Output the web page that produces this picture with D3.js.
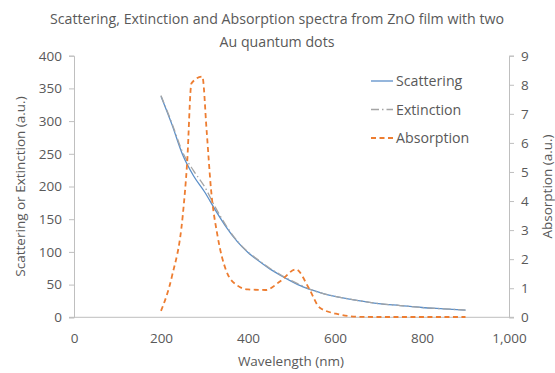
<!DOCTYPE html>
<html>
<head>
<meta charset="utf-8">
<script src="https://cdn.jsdelivr.net/npm/d3@7/dist/d3.min.js"></script>
<style>
  body { margin: 0; background: #fff; }
  svg text { font-family: "Open Sans", "Liberation Sans", sans-serif; fill: #595959; }
</style>
</head>
<body>
<div id="chart"></div>
<script>
  const wavelength = [200, 225, 250, 275, 300, 325, 350, 375, 400, 425, 450, 475, 500, 525, 550, 575, 600, 650, 700, 750, 800, 850, 900];
  const scattering = [338, 295, 248, 216, 192, 164, 138, 116, 99, 86, 74, 64, 55, 47, 41, 36, 32, 26, 21, 18, 15, 13, 11];
  const extinction = [339, 297, 252, 224, 200, 168, 140, 117, 100, 87, 75, 65, 56, 48, 41, 36, 32, 26, 21, 18, 15, 13, 11];

  const absWavelength = [200, 225, 250, 260, 270, 295, 305, 315, 330, 350, 375, 400, 440, 475, 510, 540, 565, 610, 650, 700, 800, 900];
  const absorption = [0.22, 1.4, 3.5, 5.3, 8.05, 8.28, 6.4, 4.4, 2.8, 1.6, 1.1, 0.96, 0.94, 1.25, 1.65, 1.0, 0.33, 0.1, 0.02, 0.01, 0.01, 0.01];

  const xTicks = [0, 200, 400, 600, 800, 1000];
  const leftTicks = [0, 50, 100, 150, 200, 250, 300, 350, 400];
  const rightTicks = [0, 1, 2, 3, 4, 5, 6, 7, 8, 9];

  const width = 555, height = 373;
  const plot = { left: 74, right: 509, top: 55.7, bottom: 317.3 };

  const svg = d3.select("#chart").append("svg")
    .attr("width", width)
    .attr("height", height);

  const x = d3.scaleLinear().domain([0, 1000]).range([plot.left, plot.right]);
  const yLeft = d3.scaleLinear().domain([0, 400]).range([plot.bottom, plot.top]);
  const yRight = d3.scaleLinear().domain([0, 9]).range([plot.bottom, plot.top]);

  const axisColor = "#bfbfbf";

  // axes
  const xAxis = svg.append("g")
    .attr("transform", `translate(0,${plot.bottom})`)
    .call(d3.axisBottom(x).tickValues(xTicks).tickSize(0).tickPadding(16).tickFormat(d3.format(",")));
  const leftAxis = svg.append("g")
    .attr("transform", `translate(${plot.left},0)`)
    .call(d3.axisLeft(yLeft).tickValues(leftTicks).tickSize(5).tickPadding(7));
  const rightAxis = svg.append("g")
    .attr("transform", `translate(${plot.right},0)`)
    .call(d3.axisRight(yRight).tickValues(rightTicks).tickSize(5).tickPadding(7));

  [xAxis, leftAxis, rightAxis].forEach(g => {
    g.select(".domain").attr("stroke", axisColor);
    g.selectAll(".tick line").attr("stroke", axisColor);
    g.selectAll(".tick text").attr("font-size", 13.5).attr("fill", "#595959");
  });
  xAxis.select(".domain").attr("d", `M${plot.left - 5},0H${plot.right + 5}`);

  // lines
  const lineLeft = (xs, ys) => d3.line()
    .x((d, i) => x(xs[i]))
    .y(d => yLeft(d))
    .curve(d3.curveMonotoneX)(ys);

  svg.append("path")
    .attr("d", lineLeft(wavelength, scattering))
    .attr("fill", "none")
    .attr("stroke", "#5b8fc9")
    .attr("stroke-width", 1.3);

  svg.append("path")
    .attr("d", lineLeft(wavelength, extinction))
    .attr("fill", "none")
    .attr("stroke", "#a5a5a5")
    .attr("stroke-width", 1.3)
    .attr("stroke-dasharray", "8,3,1.5,3");

  const absLine = d3.line()
    .x((d, i) => x(absWavelength[i]))
    .y(d => yRight(d))
    .curve(d3.curveMonotoneX);

  svg.append("path")
    .attr("d", absLine(absorption))
    .attr("fill", "none")
    .attr("stroke", "#ed7d31")
    .attr("stroke-width", 1.8)
    .attr("stroke-dasharray", "5,3.5");

  // title
  svg.append("text")
    .attr("x", 277).attr("y", 24)
    .attr("text-anchor", "middle")
    .attr("font-size", 14.2)
    .text("Scattering, Extinction and Absorption spectra from ZnO film with two");
  svg.append("text")
    .attr("x", 277).attr("y", 47)
    .attr("text-anchor", "middle")
    .attr("font-size", 14.2)
    .text("Au quantum dots");

  // axis titles
  svg.append("text")
    .attr("transform", `translate(25,${(plot.top + plot.bottom) / 2}) rotate(-90)`)
    .attr("text-anchor", "middle")
    .attr("font-size", 13.5)
    .text("Scattering or Extinction (a.u.)");
  svg.append("text")
    .attr("transform", `translate(552,${(plot.top + plot.bottom) / 2}) rotate(-90)`)
    .attr("text-anchor", "middle")
    .attr("font-size", 13.5)
    .text("Absorption (a.u.)");
  svg.append("text")
    .attr("x", 291).attr("y", 366)
    .attr("text-anchor", "middle")
    .attr("font-size", 13.5)
    .text("Wavelength (nm)");

  // legend
  const legendItems = [
    { label: "Scattering", color: "#5b8fc9", dash: null, w: 1.3 },
    { label: "Extinction", color: "#a5a5a5", dash: "8,3,1.5,3", w: 1.3 },
    { label: "Absorption", color: "#ed7d31", dash: "5,3.5", w: 1.8 }
  ];
  const legend = svg.append("g").attr("transform", "translate(371,81)");
  legendItems.forEach((item, i) => {
    const g = legend.append("g").attr("transform", `translate(0,${i * 28.5})`);
    g.append("line")
      .attr("x1", 0).attr("x2", 22)
      .attr("stroke", item.color)
      .attr("stroke-width", item.w)
      .attr("stroke-dasharray", item.dash);
    g.append("text")
      .attr("x", 25).attr("y", 5)
      .attr("font-size", 14.2)
      .text(item.label);
  });
</script>
</body>
</html>
